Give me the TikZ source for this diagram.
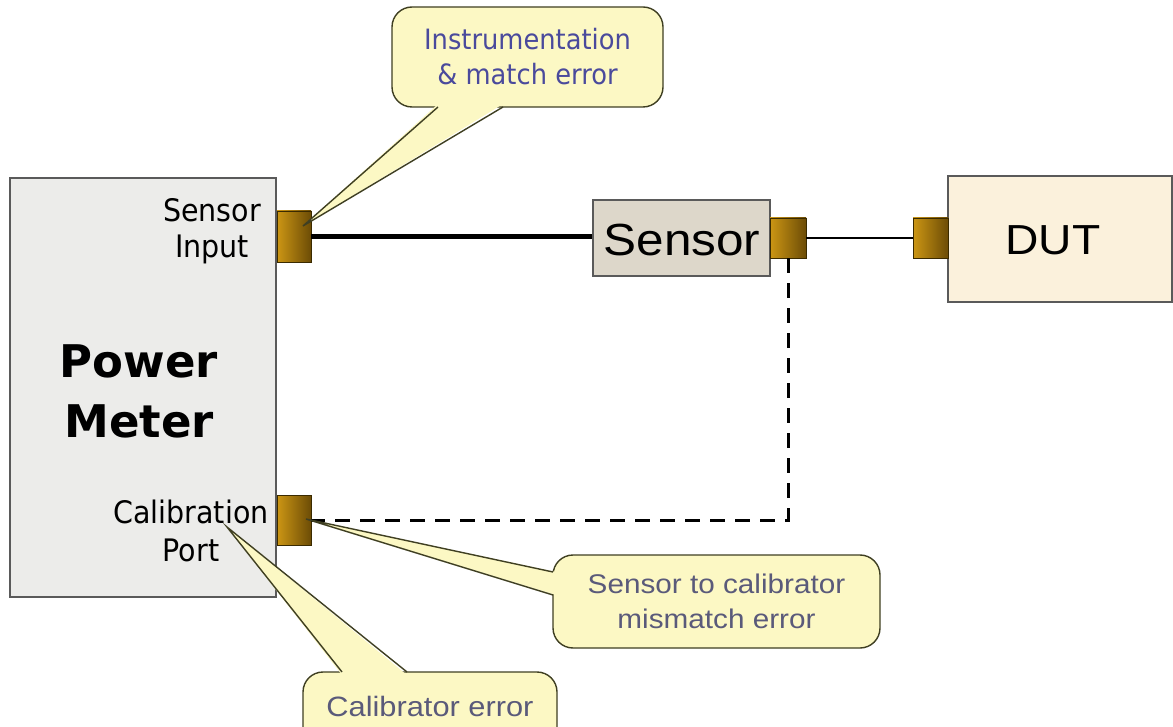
\documentclass[tikz,border=0pt]{standalone}
\usepackage{fontspec}
\setmainfont{DejaVu Sans}
\newfontfamily\tahfont[FakeStretch=0.92]{DejaVu Sans}
\newfontfamily\boldfont{DejaVu Sans Bold}
\newfontfamily\arifont[FakeStretch=1.1]{Liberation Sans}
\usetikzlibrary{calc}
\definecolor{pmfill}{HTML}{ECECEA}
\definecolor{boxdraw}{HTML}{5A5A5A}
\definecolor{sensfill}{HTML}{DDD7CA}
\definecolor{dutfill}{HTML}{FBF1DC}
\definecolor{connL}{HTML}{CC9614}
\definecolor{connR}{HTML}{6C4C06}
\definecolor{conndraw}{HTML}{3A2A00}
\definecolor{cfill}{HTML}{FCF8C4}
\definecolor{cdraw}{HTML}{3F3F22}
\definecolor{ctextA}{HTML}{4A4A9C}
\definecolor{ctextB}{HTML}{5A5A7A}
\tikzset{
  blockbox/.style={draw=boxdraw, line width=1.5pt, inner sep=0pt},
  connbox/.style={draw=conndraw, line width=0.8pt, left color=connL, right color=connR, inner sep=0pt},
  callout/.style={draw=cdraw, fill=cfill, line width=1.4pt, rounded corners=20pt, inner sep=0pt, align=center},
  wedgefill/.style={fill=cfill},
  wedgeline/.style={draw=cdraw, line width=1.4pt, line join=miter},
  sidelabel/.style={font=\tahfont\fontsize{31}{36}\selectfont, align=center, inner sep=0pt},
}
\begin{document}
\begin{tikzpicture}[x=1pt,y=-1pt]
\clip (0,0) rectangle (1173,727);
\fill[white] (0,0) rectangle (1173,727);

% power meter
\node[blockbox, fill=pmfill, minimum width=266pt, minimum height=419pt] (pm) at (143,387.5) {};
\node[font=\boldfont\fontsize{45}{60}\selectfont, align=center, inner sep=0pt] (pmtext) at (139,391) {Power\\Meter};
\node[sidelabel] (silabel) at (212,231) {Sensor\\Input};
\node[sidelabel, font=\tahfont\fontsize{31}{38}\selectfont] (cplabel) at (191,531) {Calibration\\Port};

% connectors
\node[connbox, minimum width=34pt, minimum height=51pt] (sin) at (294,236.5) {};
\node[connbox, minimum width=34pt, minimum height=50pt] (cal) at (294,520) {};

% sensor & DUT
\node[blockbox, fill=sensfill, minimum width=177pt, minimum height=76pt] (sensor) at (681.5,238) {};
\node[font=\arifont\fontsize{45}{50}\selectfont, inner sep=0pt] (senstext) at (682,240) {Sensor};
\node[connbox, minimum width=36pt, minimum height=40pt] (sc) at (788,238) {};
\node[blockbox, fill=dutfill, minimum width=224pt, minimum height=126pt] (dut) at (1060,239) {};
\node[font=\arifont\fontsize{42}{48}\selectfont, inner sep=0pt] (duttext) at (1053,240) {DUT};
\node[connbox, minimum width=35pt, minimum height=40pt] (dc) at (930.5,238) {};

% cables
\draw[line width=5pt] (sin.east) -- (sin.east -| sensor.west);
\draw[line width=2.8pt] (sc.east) -- (dc.west);
\draw[line width=3pt, dash pattern=on 15pt off 10pt] (sc.south) |- (cal.east);

% callout 1
\node[callout, minimum width=271pt, minimum height=100pt, text=ctextA,
      font=\tahfont\fontsize{28}{35}\selectfont] (c1) at (527.5,57) {Instrumentation\\\& match error};
\coordinate (t1) at (303,226);
\fill[wedgefill] (438,104) -- (t1) -- (503,104) -- cycle;
\draw[wedgeline] (438,107) -- (t1) -- (503,107);

% callout 2
\node[callout, minimum width=327pt, minimum height=93pt, text=ctextB,
      font=\arifont\fontsize{27}{35}\selectfont] (c2) at (716.5,601.5) {Sensor to calibrator\\mismatch error};
\coordinate (t2) at (306,519);
\fill[wedgefill] (556,572) -- (t2) -- (556,595) -- cycle;
\draw[wedgeline] (553,572) -- (t2) -- (553,595);

% callout 3
\node[callout, minimum width=254pt, minimum height=90pt] (c3) at (430,717) {};
\node[font=\arifont\fontsize{28}{32}\selectfont, text=ctextB, inner sep=0pt] (c3text) at (430,706) {Calibrator error};
\coordinate (t3) at (227,527);
\fill[wedgefill] (342,675) -- (t3) -- (407,675) -- cycle;
\draw[wedgeline] (342,672) -- (t3) -- (407,672);
\end{tikzpicture}
\end{document}
